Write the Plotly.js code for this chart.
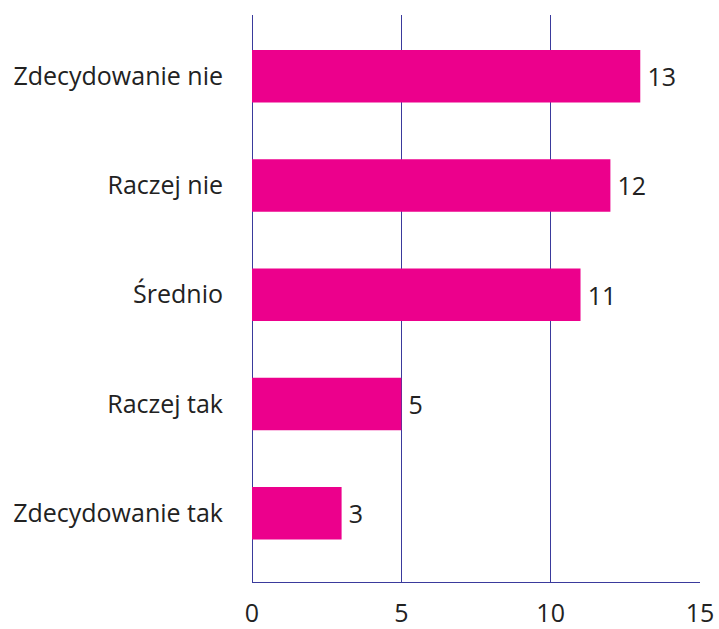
<!DOCTYPE html>
<html>
<head>
<meta charset="utf-8">
<script src="https://cdn.plot.ly/plotly-3.0.1.min.js"></script>
<style>html,body{margin:0;padding:0;background:#fff;}#chart{width:719px;height:629px;}</style>
</head>
<body>
<div id="chart"></div>
<script>
const categories = ["Zdecydowanie nie", "Raczej nie", "Średnio", "Raczej tak", "Zdecydowanie tak"];
const values = [13, 12, 11, 5, 3];
const tickVals = [0, 5, 10, 15];
const tickText = ["0", "5", "10", "15"];

const fontFam = "'Open Sans', sans-serif";
const gridCol = "#3a3a9c";

Plotly.newPlot("chart", [{
  type: "bar",
  orientation: "h",
  y: categories,
  x: values,
  width: 0.48,
  marker: {color: "#EC008C"},
  text: values.map(v => "\u2009" + v),
  textposition: "outside",
  cliponaxis: false,
  textfont: {family: fontFam, size: 25, color: "#222"},
  hoverinfo: "none"
}], {
  width: 719, height: 629,
  margin: {l: 252, r: 19, t: 15, b: 47},
  paper_bgcolor: "#fff", plot_bgcolor: "#fff",
  showlegend: false,
  xaxis: {
    range: [0, 15],
    tickvals: tickVals, ticktext: tickText,
    showgrid: true, gridcolor: gridCol, gridwidth: 1,
    zeroline: true, zerolinecolor: gridCol, zerolinewidth: 1,
    showline: true, linecolor: gridCol, linewidth: 1,
    ticks: "", ticklabelstandoff: 9,
    tickfont: {family: fontFam, size: 25, color: "#222"},
    fixedrange: true
  },
  yaxis: {
    type: "category",
    categoryorder: "array", categoryarray: categories,
    range: [4.63, -0.56],
    showgrid: false, zeroline: false, showline: false,
    ticks: "", ticklabelstandoff: 28,
    tickfont: {family: fontFam, size: 25, color: "#222"},
    fixedrange: true
  }
}, {displayModeBar: false, staticPlot: true});
</script>
</body>
</html>
